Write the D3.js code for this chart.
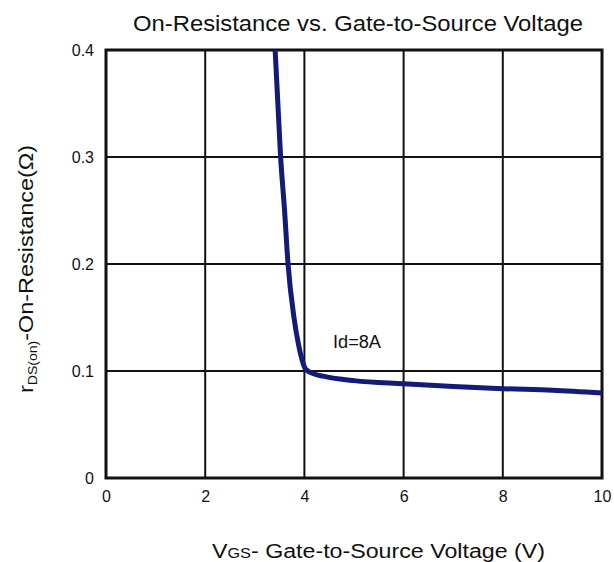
<!DOCTYPE html>
<html>
<head>
<meta charset="utf-8">
<script src="https://cdn.jsdelivr.net/npm/d3@7"></script>
<style>
  body { margin: 0; background: #fff; }
  text { font-family: "Liberation Sans", Arial, sans-serif; fill: #111; }
</style>
</head>
<body>
<div id="chart"></div>
<script>
// values
var vgs = [3.41, 3.52, 3.60, 3.67, 3.79, 3.88, 3.95, 4.02, 4.15, 4.4, 5, 6, 7, 8, 9, 10];
var rds = [0.400, 0.300, 0.250, 0.200, 0.150, 0.125, 0.111, 0.102, 0.098, 0.095, 0.091, 0.088, 0.0855, 0.0835, 0.082, 0.0795];
var xTicks = [0, 2, 4, 6, 8, 10];
var yTicks = [0, 0.1, 0.2, 0.3, 0.4];

var data = vgs.map((v, i) => ({ x: v, y: rds[i] }));

var margin = { top: 50, right: 12, bottom: 84, left: 106 };

var svg = d3.select("#chart").append("svg")
  .attr("width", 614)
  .attr("height", 562);

var g = svg.append("g")
  .attr("transform", "translate(" + margin.left + "," + margin.top + ")");

var x = d3.scaleLinear().domain([0, 10]).range([0, 496]);
var y = d3.scaleLinear().domain([0, 0.4]).range([428, 0]);

// grid
g.selectAll(".vgrid").data(xTicks).enter().append("line")
  .attr("x1", d => x(d)).attr("x2", d => x(d))
  .attr("y1", 0).attr("y2", y(0))
  .attr("stroke", "#111").attr("stroke-width", 2);
g.selectAll(".hgrid").data(yTicks).enter().append("line")
  .attr("x1", 0).attr("x2", x(10))
  .attr("y1", d => y(d)).attr("y2", d => y(d))
  .attr("stroke", "#111").attr("stroke-width", 2);
g.append("rect")
  .attr("x", 0).attr("y", 0)
  .attr("width", x(10)).attr("height", y(0))
  .attr("fill", "none").attr("stroke", "#111").attr("stroke-width", 3);

// axes (labels only)
var xAxis = d3.axisBottom(x).tickValues(xTicks).tickSize(0).tickPadding(13);
var yAxis = d3.axisLeft(y).tickValues(yTicks).tickSize(0).tickPadding(12)
  .tickFormat(d => d === 0 ? "0" : d3.format(".1f")(d));

g.append("g").attr("transform", "translate(0," + y(0) + ")").call(xAxis)
  .call(s => s.select(".domain").remove())
  .selectAll("text").style("font-size", "16px").attr("fill", "#111");
g.append("g").call(yAxis)
  .call(s => s.select(".domain").remove())
  .selectAll("text").style("font-size", "16px").attr("fill", "#111");

// curve
var line = d3.line()
  .x(d => x(d.x))
  .y(d => y(d.y))
  .curve(d3.curveMonotoneX);

g.append("path")
  .datum(data)
  .attr("d", line)
  .attr("fill", "none")
  .attr("stroke", "#131a78")
  .attr("stroke-width", 5);

svg.append("text")
  .attr("x", 333).attr("y", 348)
  .attr("textLength", 48).attr("lengthAdjust", "spacingAndGlyphs")
  .style("font-size", "18px")
  .text("Id=8A");

// title
svg.append("text")
  .attr("x", 133).attr("y", 31)
  .attr("textLength", 450).attr("lengthAdjust", "spacingAndGlyphs")
  .style("font-size", "22.5px")
  .text("On-Resistance vs. Gate-to-Source Voltage");

// x title
var xt = svg.append("text")
  .attr("x", 212).attr("y", 558)
  .attr("textLength", 333).attr("lengthAdjust", "spacingAndGlyphs")
  .style("font-size", "20px");
xt.append("tspan").text("V");
xt.append("tspan").style("font-size", "14px").text("GS");
xt.append("tspan").text("- Gate-to-Source Voltage (V)");

// y title
var yt = svg.append("text")
  .attr("transform", "translate(33,393) rotate(-90)")
  .attr("textLength", 248).attr("lengthAdjust", "spacingAndGlyphs")
  .style("font-size", "20px");
yt.append("tspan").text("r");
yt.append("tspan").style("font-size", "12px").attr("dy", 4).text("DS(on)");
yt.append("tspan").attr("dy", -4).text("-On-Resistance(\u03A9)");
</script>
</body>
</html>
